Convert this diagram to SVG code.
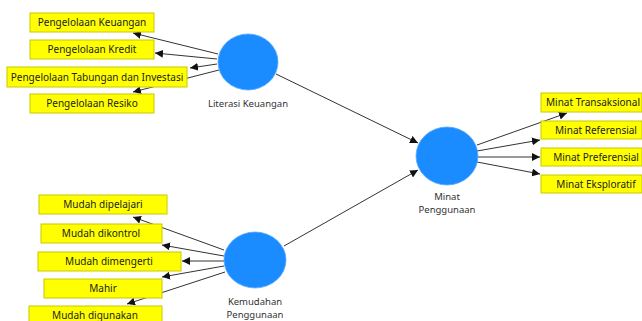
<svg xmlns="http://www.w3.org/2000/svg" width="642" height="321" viewBox="0 0 642 321">
<style>
.box{fill:#ffff00;stroke:#c8c800;stroke-width:1}
.bt{font-family:"Noto Sans","Open Sans",sans-serif;font-size:10px;fill:#222;text-anchor:middle}
.lv{fill:#1a8cff;stroke:#5aaaff;stroke-width:0.8}
.lt{font-family:"Noto Sans","Open Sans",sans-serif;font-size:9.5px;fill:#333;text-anchor:middle}
.c{stroke:#333;stroke-width:1;fill:none;marker-end:url(#ah)}
</style>
<defs>
<marker id="ah" viewBox="0 0 10 10" refX="10" refY="5" markerWidth="8" markerHeight="8" markerUnits="userSpaceOnUse" orient="auto">
<path d="M0,0 L10,5 L0,10 z" fill="#111"/>
</marker>
</defs>
<rect width="642" height="321" fill="#fff"/>
<g id="connectors">
<line class="c" x1="218" y1="54" x2="133" y2="33"/>
<line class="c" x1="217" y1="59" x2="155" y2="53"/>
<line class="c" x1="217" y1="64" x2="190" y2="68"/>
<line class="c" x1="219" y1="70" x2="133" y2="92"/>
<line class="c" x1="276" y1="74" x2="418" y2="143"/>
<line class="c" x1="284" y1="246" x2="418" y2="170"/>
<line class="c" x1="477" y1="145" x2="567" y2="113"/>
<line class="c" x1="477" y1="151" x2="540" y2="140"/>
<line class="c" x1="478" y1="157" x2="540" y2="157"/>
<line class="c" x1="477" y1="162" x2="540" y2="174"/>
<line class="c" x1="224" y1="250" x2="133" y2="217"/>
<line class="c" x1="224" y1="256" x2="162" y2="245"/>
<line class="c" x1="224" y1="261" x2="182" y2="261"/>
<line class="c" x1="224" y1="266" x2="162" y2="277"/>
<line class="c" x1="225" y1="272" x2="127" y2="304"/>
</g>
<g id="n-pk"><rect class="box" x="30" y="13" width="124" height="19"/><text class="bt" x="92" y="26">Pengelolaan Keuangan</text></g>
<g id="n-pkr"><rect class="box" x="30" y="40" width="124" height="19"/><text class="bt" x="92" y="53">Pengelolaan Kredit</text></g>
<g id="n-pti"><rect class="box" x="7" y="67" width="180" height="20"/><text class="bt" x="97" y="80.5">Pengelolaan Tabungan dan Investasi</text></g>
<g id="n-pr"><rect class="box" x="30" y="94" width="124" height="19"/><text class="bt" x="92" y="107">Pengelolaan Resiko</text></g>
<g id="n-literasi"><ellipse class="lv" cx="248" cy="62" rx="30" ry="28"/><text class="lt" x="248" y="107">Literasi Keuangan</text></g>
<g id="n-minat"><ellipse class="lv" cx="447" cy="156" rx="31" ry="29"/><text class="lt" x="447" y="200">Minat</text><text class="lt" x="447" y="213">Penggunaan</text></g>
<g id="n-kemudahan"><ellipse class="lv" cx="255" cy="260" rx="31" ry="28"/><text class="lt" x="255" y="305">Kemudahan</text><text class="lt" x="255" y="318">Penggunaan</text></g>
<g id="n-mt"><rect class="box" x="541" y="93" width="101" height="19"/><text class="bt" x="593" y="106">Minat Transaksional</text></g>
<g id="n-mr"><rect class="box" x="541" y="121" width="101" height="18"/><text class="bt" x="596" y="133.5">Minat Referensial</text></g>
<g id="n-mp"><rect class="box" x="541" y="148" width="101" height="18"/><text class="bt" x="596" y="160.5">Minat Preferensial</text></g>
<g id="n-me"><rect class="box" x="541" y="175" width="101" height="18"/><text class="bt" x="596" y="187.5">Minat Eksploratif</text></g>
<g id="n-md"><rect class="box" x="39" y="195" width="128" height="19"/><text class="bt" x="103" y="208">Mudah dipelajari</text></g>
<g id="n-mk"><rect class="box" x="41" y="224" width="121" height="19"/><text class="bt" x="101" y="237">Mudah dikontrol</text></g>
<g id="n-mm"><rect class="box" x="38" y="252" width="143" height="19"/><text class="bt" x="109" y="265">Mudah dimengerti</text></g>
<g id="n-mh"><rect class="box" x="44" y="279" width="118" height="19"/><text class="bt" x="103" y="292">Mahir</text></g>
<g id="n-mg"><rect class="box" x="29" y="306" width="133" height="19"/><text class="bt" x="95" y="319">Mudah digunakan</text></g>
</svg>
